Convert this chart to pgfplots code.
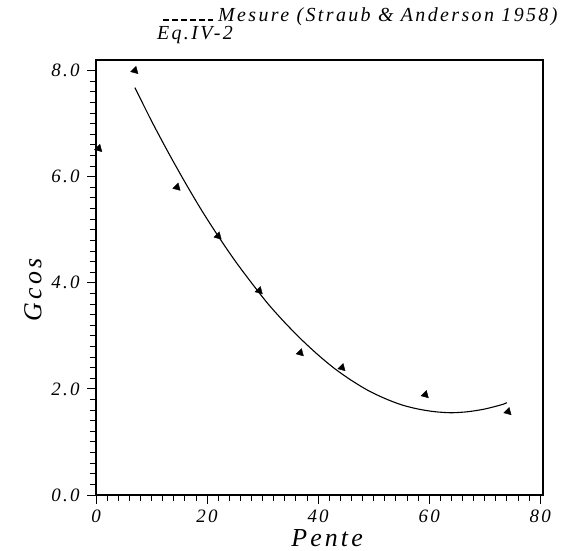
\documentclass[border=0pt]{standalone}
\usepackage{pgfplots}
\pgfplotsset{compat=1.18}
\usepackage{fontspec}
\setmainfont{Liberation Serif}
\newfontfamily\pf{Liberation Serif}[LetterSpace=12]
\begin{document}
\begin{tikzpicture}
\begin{axis}[
  scale only axis, width=447bp, height=435bp,
  xmin=0, xmax=80.5, ymin=0, ymax=8.2,
  xtick={0,20,40,60,80}, ytick={0,2,4,6,8},
  minor x tick num=9, minor y tick num=9,
  tick align=outside, xtick pos=bottom, ytick pos=left,
  major tick length=9bp, minor tick length=6bp,
  axis line style={line width=1.1pt},
  every tick/.style={black, line width=0.9pt},
  /pgf/number format/assume math mode=true,
  yticklabel style={/pgf/number format/fixed, /pgf/number format/fixed zerofill, /pgf/number format/precision=1, font=\fontsize{19}{19}\pf\itshape, xshift=-4bp},
  xticklabel style={font=\fontsize{19}{19}\pf\itshape, yshift=-2bp},
  xlabel={Pente}, ylabel={Gcos},
  xlabel style={font=\fontsize{26}{26}\pf\itshape, at={(rel axis cs:0.517,-0.099)}, anchor=center},
  ylabel style={font=\fontsize{26}{26}\pf\itshape, at={(rel axis cs:-0.141,0.471)}, anchor=center},
  clip=false,
]
\path (rel axis cs:-0.2148,-0.1287) rectangle (rel axis cs:1.0604,1.1379);
\addplot[only marks, mark=triangle*, mark size=4.4pt, mark options={rotate=225, fill=black}] coordinates {
  (0.5,6.53) (7.0,8.0) (14.6,5.8) (22.0,4.88) (29.4,3.85) (36.8,2.68) (44.3,2.40) (59.3,1.89) (74.2,1.57)
};
\addplot[black, line width=1.1pt, smooth] coordinates {
  (7,7.68) (10,7.05) (13,6.46) (16,5.90) (19,5.37) (22,4.88) (25,4.42) (28,4.00) (31,3.60) (34,3.25)
  (37,2.93) (40,2.64) (43,2.38) (46,2.16) (49,1.97) (52,1.82) (55,1.70) (58,1.62) (61,1.57) (64,1.55)
  (67,1.57) (70,1.62) (73,1.70) (74,1.74)
};
\draw[line width=1.6pt, dash pattern=on 6bp off 3bp] (rel axis cs:0.150,1.092) -- (rel axis cs:0.262,1.092);
\node[anchor=base west, font=\fontsize{20}{20}\pf\itshape, inner sep=0pt] at (rel axis cs:0.273,1.088) {Mesure (Straub \& Anderson 1958)};
\node[anchor=base west, font=\fontsize{20}{20}\pf\itshape, inner sep=0pt] at (rel axis cs:0.136,1.046) {Eq.IV-2};
\end{axis}
\end{tikzpicture}
\end{document}
